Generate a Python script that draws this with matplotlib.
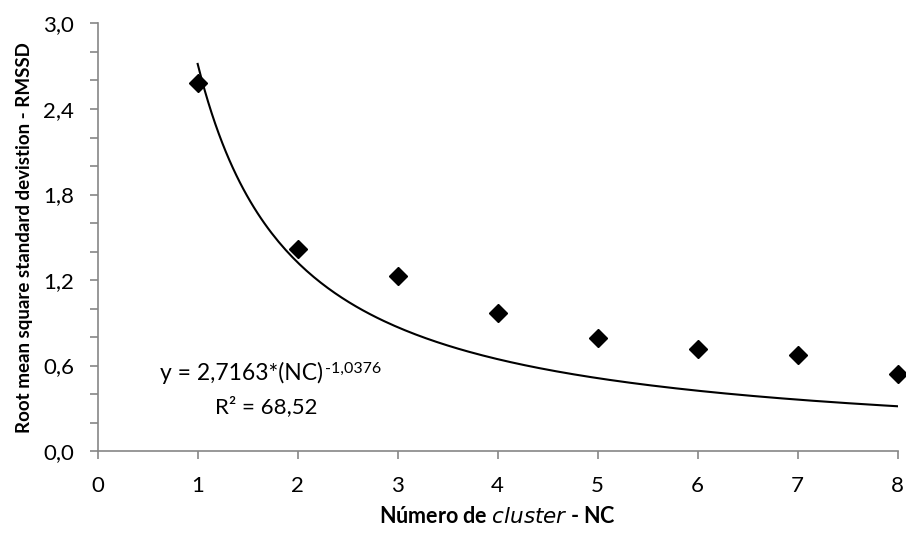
import matplotlib
matplotlib.use("Agg")
import numpy as np
import matplotlib.pyplot as plt

plt.rcParams['font.family'] = ['Lato', 'DejaVu Sans']

# observed RMSSD per number of clusters
nc = [1, 2, 3, 4, 5, 6, 7, 8]
rmssd = [2.58, 1.415, 1.228, 0.971, 0.791, 0.718, 0.672, 0.54]

# power trendline printed on the chart: y = a * NC^b
coef_a = 2.7163
coef_b = -1.0376
r2_text = "68,52"

yticks = [0.0, 0.6, 1.2, 1.8, 2.4, 3.0]
ytick_labels = ["0,0", "0,6", "1,2", "1,8", "2,4", "3,0"]

gray = "#868686"

fig = plt.figure(figsize=(9.06, 5.34), dpi=100)
ax = fig.add_axes([0.1078, 0.1554, 0.883, 0.8006])

tx = np.linspace(1, 8, 200)
ax.plot(tx, coef_a * tx ** coef_b, color="black", lw=1.5, zorder=2)
ax.plot(nc, rmssd, linestyle="none", marker="D", ms=9, color="black", clip_on=False, zorder=3)

ax.set_xlim(0, 8)
ax.set_ylim(0, 3.0)
ax.set_xticks(range(9))
ax.set_yticks(yticks)
ax.set_yticklabels(ytick_labels)
ax.set_yticks([0.2, 0.4, 0.8, 1.0, 1.4, 1.6, 2.0, 2.2, 2.6, 2.8], minor=True)

for s in ["top", "right"]:
    ax.spines[s].set_visible(False)
for s in ["left", "bottom"]:
    ax.spines[s].set_color(gray)
    ax.spines[s].set_linewidth(1.2)

ax.tick_params(axis="both", which="both", color=gray, width=1.2, length=6, labelsize=16)
ax.tick_params(axis="y", pad=11)
ax.tick_params(axis="x", pad=12)

ax.set_xlabel("Número de $\\it{cluster}$ - NC", fontsize=15.5, fontweight="bold", labelpad=7)
ax.set_ylabel("Root mean square standard devistion - RMSSD", fontsize=13.5, fontweight="bold", labelpad=7)

# equation label: main part, superscript exponent, and R²
ax.text(2.25, 0.498, "y = 2,7163*(NC)", fontsize=16.5, ha="right", va="baseline")
ax.text(2.27, 0.548, "-1,0376", fontsize=11.5, ha="left", va="baseline")
ax.text(1.688, 0.265, "R² = " + r2_text, fontsize=16, ha="center", va="baseline")

fig.savefig("out.png", dpi=100)
